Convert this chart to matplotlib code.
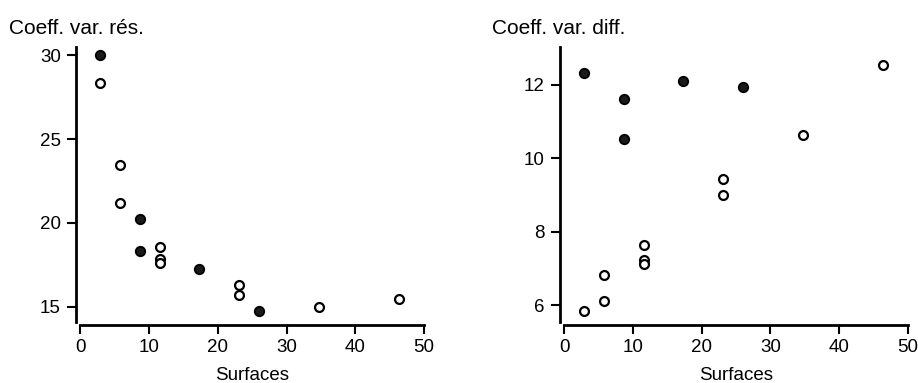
import matplotlib
matplotlib.use("Agg")
import matplotlib.pyplot as plt

plt.rcParams['font.family'] = ['Liberation Sans', 'DejaVu Sans']

# filled points
surf_full = [2.9, 8.7, 8.7, 17.3, 26.0]
res_full = [30.0, 20.24, 18.33, 17.26, 14.76]
diff_full = [12.33, 11.61, 10.53, 12.11, 11.94]

# open points
surf_open = [2.9, 5.8, 5.8, 11.6, 11.6, 11.6, 23.1, 23.1, 34.7, 46.3]
res_open = [28.33, 23.45, 21.19, 18.57, 17.84, 17.6, 16.29, 15.7, 15.0, 15.48]
diff_open = [5.85, 6.83, 6.12, 7.64, 7.25, 7.14, 9.44, 9.0, 10.64, 12.54]

W, H = 918, 383
fig = plt.figure(figsize=(W / 100, H / 100), dpi=100)
ax1 = fig.add_axes([80.3 / W, 61 / H, 343.7 / W, 275.3 / H])
ax2 = fig.add_axes([564 / W, 61 / H, 344 / W, 275.3 / H])

panels = [
    (ax1, res_full, res_open, (14.1, 30.5), [15, 20, 25, 30], "Coeff. var. rés.", 9),
    (ax2, diff_full, diff_open, (5.55, 13.04), [6, 8, 10, 12], "Coeff. var. diff.", 492),
]

for ax, yf, yo, ylim, yticks, title, tx in panels:
    ax.plot(surf_open, yo, 'o', ms=6.4, mfc='white', mec='black', mew=1.6, ls='none')
    ax.plot(surf_full, yf, 'o', ms=6.8, mfc='#1a1a1a', mec='black', mew=1.3, ls='none')
    ax.set_xlim(0, 50)
    ax.set_ylim(*ylim)
    ax.set_xticks([0, 10, 20, 30, 40, 50])
    ax.set_yticks(yticks)
    for s in ['top', 'right']:
        ax.spines[s].set_visible(False)
    ax.spines['left'].set_position(('outward', 3))
    ax.spines['bottom'].set_position(('outward', 2.5))
    ax.spines['left'].set_linewidth(2)
    ax.spines['bottom'].set_linewidth(2)
    ax.spines['bottom'].set_bounds(0, 50)
    ax.tick_params(direction='out', length=6.5, width=1.5, labelsize=13.5)
    ax.tick_params(axis='x', pad=3)
    ax.tick_params(axis='y', pad=4.5)
    ax.set_xlabel("Surfaces", fontsize=13.5, labelpad=8.5)
    fig.text(tx / W, 1 - 33.5 / H, title, fontsize=15, va='baseline', ha='left')

fig.savefig("out.png", dpi=100)
